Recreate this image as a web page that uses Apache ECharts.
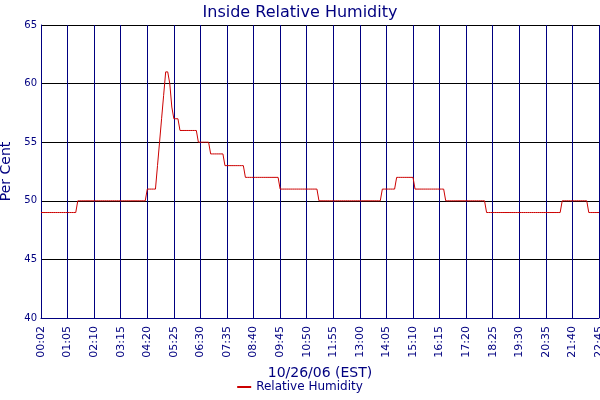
<!DOCTYPE html>
<html><head><meta charset="utf-8">
<script src="https://cdn.jsdelivr.net/npm/echarts@6/dist/echarts.min.js"></script>
<style>html,body{margin:0;padding:0;background:#fff}#c{width:600px;height:400px}</style>
</head><body><div id="c"></div>
<script>
// Time categories at 5-minute steps (first reading 00:02)
const startLabel = "00:02";
const lastMinute = 1365;
// Humidity readings as runs: value and number of consecutive readings
const runValues  = [49,50,51,53,55,57,59,61,61,60,58,57,56,55,54,53,52,51,50,51,52,51,50,49,50,49];
const runLengths = [18,34, 5, 1, 1, 1, 1, 1, 1, 1, 1, 3, 9, 6, 7,10,17,19,31, 7, 9,15,20,37,13, 6];
const yTicks = [40,45,50,55,60,65];

const pad = n => String(n).padStart(2,'0');
const categories = [startLabel];
for (let m = 5; m <= lastMinute; m += 5) categories.push(pad(Math.floor(m/60)) + ':' + pad(m%60));
const values = [];
runValues.forEach((v,i) => { for (let k=0;k<runLengths[i];k++) values.push(v); });

const navy = '#000080';
const chart = echarts.init(document.getElementById('c'));
chart.setOption({
  animation:false,
  title:{text:'Inside Relative Humidity',left:'center',top:0,textStyle:{color:navy,fontFamily:'DejaVu Sans',fontWeight:'normal',fontSize:16}},
  grid:{left:41,right:1,top:25,bottom:82,containLabel:false,outerBoundsMode:'none'},
  legend:{bottom:2,left:'center',itemWidth:14,itemHeight:2,icon:'rect',textStyle:{color:navy,fontFamily:'DejaVu Sans',fontSize:12},data:['Relative Humidity']},
  xAxis:{type:'category',data:categories,boundaryGap:false,
    name:'10/26/06 (EST)',nameLocation:'middle',nameGap:48,nameTextStyle:{color:navy,fontFamily:'DejaVu Sans',fontSize:14},
    axisLine:{lineStyle:{color:navy}},axisTick:{show:false},
    axisLabel:{interval:12,rotate:90,color:navy,fontFamily:'DejaVu Sans',fontSize:11,showMaxLabel:true},
    splitLine:{show:true,interval:12,lineStyle:{color:navy,width:1}}},
  yAxis:{type:'value',min:40,max:65,interval:5,
    name:'Per Cent',nameLocation:'middle',nameGap:22,nameTextStyle:{color:navy,fontFamily:'DejaVu Sans',fontSize:14},
    axisLine:{show:true,lineStyle:{color:navy}},axisTick:{show:false},
    axisLabel:{color:navy,fontFamily:'DejaVu Sans',fontSize:10,margin:4},
    splitLine:{lineStyle:{color:'#000',width:1}}},
  series:[{name:'Relative Humidity',type:'line',data:values,showSymbol:false,symbol:'none',
    lineStyle:{color:'#cc0000',width:1},itemStyle:{color:'#cc0000'}}]
});
</script></body></html>
